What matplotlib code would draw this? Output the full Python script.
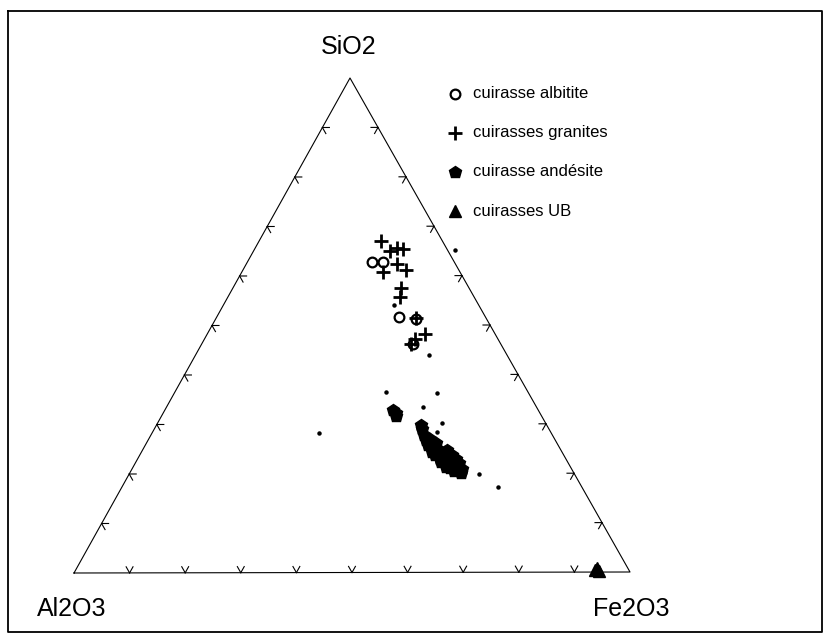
import numpy as np
import matplotlib
matplotlib.use("Agg")
import matplotlib.pyplot as plt

plt.rcParams['font.family'] = ['Liberation Sans', 'DejaVu Sans']

# ternary data: fractions of (SiO2, Al2O3, Fe2O3)
albitite_si = [0.628, 0.628, 0.517, 0.513, 0.461]
albitite_al = [0.148, 0.128, 0.155, 0.127, 0.158]
albitite_fe = [0.224, 0.244, 0.328, 0.360, 0.381]

granite_si = [0.671, 0.650, 0.657, 0.655, 0.624, 0.612, 0.608, 0.576, 0.556,
              0.515, 0.483, 0.461, 0.471]
granite_al = [0.110, 0.105, 0.088, 0.078, 0.105, 0.095, 0.138, 0.122, 0.133,
              0.126, 0.125, 0.162, 0.149]
granite_fe = [0.219, 0.245, 0.255, 0.267, 0.271, 0.293, 0.254, 0.302, 0.311,
              0.359, 0.392, 0.377, 0.380]

andesite_si = [0.329, 0.317, 0.323,
               0.299, 0.289, 0.277, 0.267, 0.269, 0.257, 0.255, 0.251, 0.244,
               0.242, 0.238, 0.230, 0.228, 0.232, 0.220, 0.218, 0.224, 0.212,
               0.206, 0.200, 0.218, 0.261, 0.244, 0.210, 0.208,
               0.248, 0.238, 0.230, 0.224, 0.214, 0.238, 0.222, 0.204]
andesite_al = [0.261, 0.261, 0.258,
               0.225, 0.228, 0.231, 0.232, 0.224, 0.234, 0.226, 0.222, 0.234,
               0.224, 0.218, 0.226, 0.218, 0.211, 0.218, 0.212, 0.206, 0.208,
               0.206, 0.203, 0.201, 0.217, 0.212, 0.218, 0.197,
               0.205, 0.200, 0.197, 0.227, 0.223, 0.231, 0.196, 0.214]
andesite_fe = [0.410, 0.422, 0.419,
               0.476, 0.483, 0.492, 0.501, 0.507, 0.509, 0.519, 0.527, 0.522,
               0.534, 0.544, 0.544, 0.554, 0.557, 0.562, 0.570, 0.570, 0.580,
               0.588, 0.597, 0.581, 0.522, 0.544, 0.572, 0.595,
               0.547, 0.562, 0.573, 0.549, 0.563, 0.531, 0.582, 0.582]

ub_si = [0.004, 0.002, 0.008]
ub_al = [0.061, 0.054, 0.055]
ub_fe = [0.935, 0.944, 0.937]

other_si = [0.541, 0.440, 0.364, 0.362, 0.335, 0.301, 0.283, 0.283, 0.198, 0.172]
other_al = [0.152, 0.140, 0.255, 0.165, 0.204, 0.187, 0.417, 0.205, 0.172, 0.151]
other_fe = [0.307, 0.420, 0.381, 0.473, 0.461, 0.512, 0.300, 0.512, 0.630, 0.677]

legend_labels = ["cuirasse albitite", "cuirasses granites", "cuirasse andésite",
                 "cuirasses UB", ""]
apex_labels = ["SiO2", "Al2O3", "Fe2O3"]

# triangle corners in figure pixels
S = np.array([350.0, 78.0])
A = np.array([74.0, 573.0])
F = np.array([630.0, 572.0])


def to_xy(si, al, fe):
    si, al, fe = np.asarray(si), np.asarray(al), np.asarray(fe)
    tot = si + al + fe
    p = (np.outer(si / tot, S) + np.outer(al / tot, A) + np.outer(fe / tot, F))
    return p[:, 0], p[:, 1]


fig = plt.figure(figsize=(8.29, 6.33), dpi=100)
ax = fig.add_axes([0, 0, 1, 1])
ax.set_xlim(0, 829)
ax.set_ylim(633, 0)
ax.axis('off')

# frame
ax.plot([8, 822, 822, 8, 8], [11, 11, 632, 632, 11], color='black', lw=1.3)

# triangle
tri = np.array([A, F, S, A])
ax.plot(tri[:, 0], tri[:, 1], color='black', lw=0.8)

# ticks every 10%
tl = 7.0
def unit(v):
    return v / np.linalg.norm(v)

sides = [(A, F, unit(S - A), unit(S - F)),
         (A, S, unit(F - A), unit(F - S)),
         (F, S, unit(A - F), unit(A - S))]
for p0, p1, d1, d2 in sides:
    for i in range(1, 10):
        p = p0 + (p1 - p0) * i / 10
        for d in (d1, d2):
            q = p + d * tl
            ax.plot([p[0], q[0]], [p[1], q[1]], color='black', lw=0.8)

ax.text(349, 47, apex_labels[0], fontsize=18, ha='center', va='center')
ax.text(72, 609, apex_labels[1], fontsize=18, ha='center', va='center')
ax.text(631, 609, apex_labels[2], fontsize=18, ha='center', va='center')

styles = [
    dict(marker='o', ms=7, mfc='none', mec='black', mew=1.6),
    dict(marker='+', ms=10, mec='black', mew=2.0),
    dict(marker='p', ms=9, mfc='black', mec='black'),
    dict(marker='^', ms=9, mfc='black', mec='black'),
    dict(marker='o', ms=2.2, mfc='black', mec='black'),
]
series = [(albitite_si, albitite_al, albitite_fe),
          (granite_si, granite_al, granite_fe),
          (andesite_si, andesite_al, andesite_fe),
          (ub_si, ub_al, ub_fe),
          (other_si, other_al, other_fe)]

for (si, al, fe), st in zip(series, styles):
    x, y = to_xy(si, al, fe)
    ax.plot(x, y, ls='none', **st)

# legend
for k, (lab, st) in enumerate(zip(legend_labels, styles)):
    ly = 94 + k * 39
    ax.plot([455], [ly], ls='none', **st)
    ax.text(473, ly, lab, fontsize=12, ha='left', va='center')

fig.savefig('out.png', dpi=100)
